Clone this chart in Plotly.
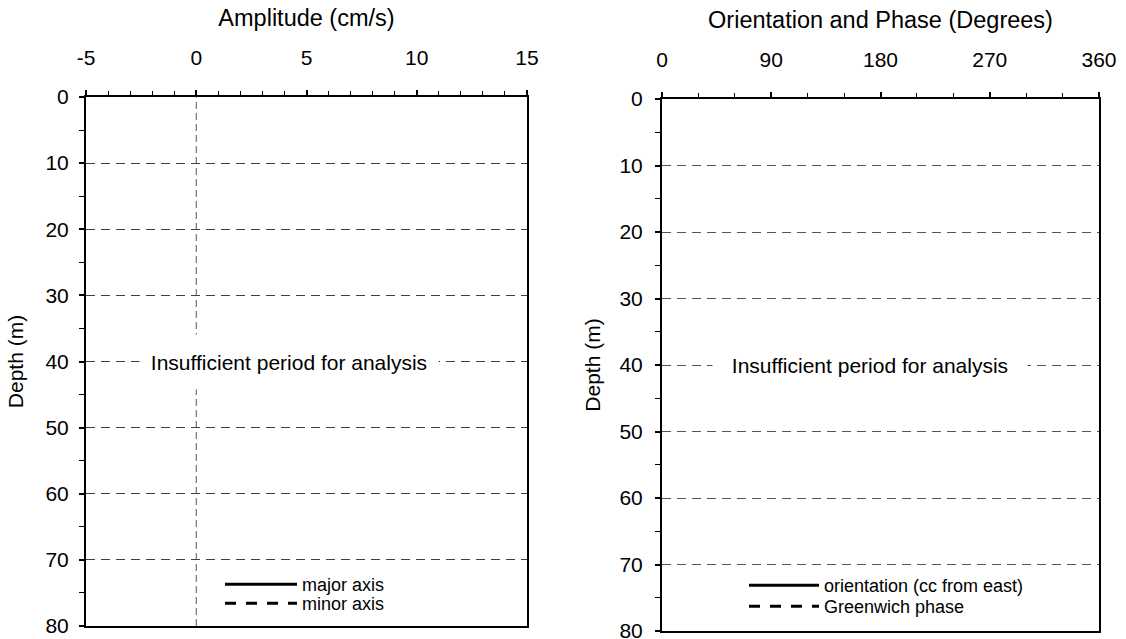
import plotly.graph_objects as go

# ---- data (no valid analysis: insufficient record period) ----
depth_m = [None]
major_axis = [None]
minor_axis = [None]
orientation = [None]
greenwich_phase = [None]

amp_ticks = [-5, 0, 5, 10, 15]
amp_labels = ["-5", "0", "5", "10", "15"]
deg_ticks = [0, 90, 180, 270, 360]
depth_ticks = [0, 10, 20, 30, 40, 50, 60, 70, 80]
message = "Insufficient period for analysis"

W, H = 1126, 639
FONT = "Liberation Sans, Arial, sans-serif"
FS = 21
TFS = 23.5
LFS = 18
DASH = "11px,10px"

fig = go.Figure()

fig.add_trace(go.Scatter(x=major_axis, y=depth_m, mode="lines", name="major axis",
                         line=dict(color="black", width=3), xaxis="x", yaxis="y", legend="legend"))
fig.add_trace(go.Scatter(x=minor_axis, y=depth_m, mode="lines", name="minor axis",
                         line=dict(color="black", width=3, dash=DASH), xaxis="x", yaxis="y", legend="legend2"))
fig.add_trace(go.Scatter(x=orientation, y=depth_m, mode="lines", name="orientation (cc from east)",
                         line=dict(color="black", width=3), xaxis="x2", yaxis="y2", legend="legend3"))
fig.add_trace(go.Scatter(x=greenwich_phase, y=depth_m, mode="lines", name="Greenwich phase",
                         line=dict(color="black", width=3, dash=DASH), xaxis="x2", yaxis="y2", legend="legend4"))

def xax(dom, rng, ticks, labels, minor_dt, title):
    return dict(domain=dom, range=rng, side="top", tickvals=ticks, ticktext=labels,
                ticks="outside", ticklen=5, tickwidth=1.5, tickcolor="black",
                minor=dict(dtick=minor_dt, tick0=0, ticks="outside", ticklen=4, tickwidth=1.2, tickcolor="black"),
                showgrid=False, zeroline=False, showline=True, linewidth=2, linecolor="black",
                mirror=True, ticklabelstandoff=17, automargin=False, ticklabeloverflow="allow",
                tickfont=dict(size=FS, color="black", family=FONT),
                title=dict(text=title, font=dict(size=TFS, color="black", family=FONT), standoff=12),
                fixedrange=True)

def yax(dom, anchor, gridcolor, lab_off, title_off):
    return dict(domain=dom, range=[80, 0], anchor=anchor, tickvals=depth_ticks,
                ticks="outside", ticklen=5, tickwidth=1.5, tickcolor="black",
                minor=dict(dtick=5, tick0=0, ticks="outside", ticklen=5, tickwidth=1.2, tickcolor="black", showgrid=False),
                showgrid=True, gridcolor=gridcolor, gridwidth=1, griddash="9px,6px",
                zeroline=False, showline=True, linewidth=2, linecolor="black", mirror=True,
                ticklabelstandoff=lab_off, automargin=False, ticklabeloverflow="allow",
                tickfont=dict(size=FS, color="black", family=FONT),
                title=dict(text="Depth (m)", font=dict(size=FS, color="black", family=FONT), standoff=title_off),
                fixedrange=True)

def leg(xpx, ypx, iw):
    return dict(x=xpx / W, y=1 - ypx / H, xanchor="left", yanchor="top",
                bgcolor="rgba(0,0,0,0)", font=dict(size=LFS, family=FONT, color="black"),
                itemwidth=iw, tracegroupgap=0, itemclick=False, itemdoubleclick=False)

fig.update_layout(
    width=W, height=H, autosize=False,
    margin=dict(l=0, r=0, t=0, b=0),
    paper_bgcolor="white", plot_bgcolor="white",
    font=dict(family=FONT, color="black"),
    xaxis=dict(xax([86 / W, 527 / W], [-5, 15], amp_ticks, amp_labels, 1, "Amplitude (cm/s)"), anchor="y"),
    yaxis=yax([1 - 626 / H, 1 - 97 / H], "x", "#404040", 6, 16),
    xaxis2=dict(xax([662 / W, 1099 / W], [0, 360], deg_ticks, [str(v) for v in deg_ticks], 30,
                    "Orientation and Phase (Degrees)"), anchor="y2"),
    yaxis2=yax([1 - 631 / H, 1 - 99 / H], "x2", "#555555", 8, 13),
    legend=leg(220, 585 - 19, 72),
    legend2=leg(220, 604 - 19, 72),
    legend3=leg(744, 586 - 19, 70),
    legend4=leg(744, 607 - 19, 70),
    showlegend=True,
)

# dashed zero reference line on amplitude panel
fig.add_shape(type="line", xref="x", yref="y domain", x0=0, x1=0, y0=0, y1=1,
              line=dict(color="#555555", width=1, dash="7px,4px"), layer="below")

# message annotations
fig.add_annotation(x=4.2, y=40, xref="x", yref="y", text=message, showarrow=False,
                   font=dict(size=FS, family=FONT, color="black"),
                   bgcolor="white", width=298, height=54, borderpad=0)
fig.add_annotation(x=171, y=40, xref="x2", yref="y2", text=message, showarrow=False,
                   font=dict(size=FS, family=FONT, color="black"),
                   bgcolor="white", width=314, height=40, borderpad=0)

fig.write_html("out.html", config={"displayModeBar": False},
               post_script="document.body.style.margin='0px';document.body.style.overflow='hidden';")
